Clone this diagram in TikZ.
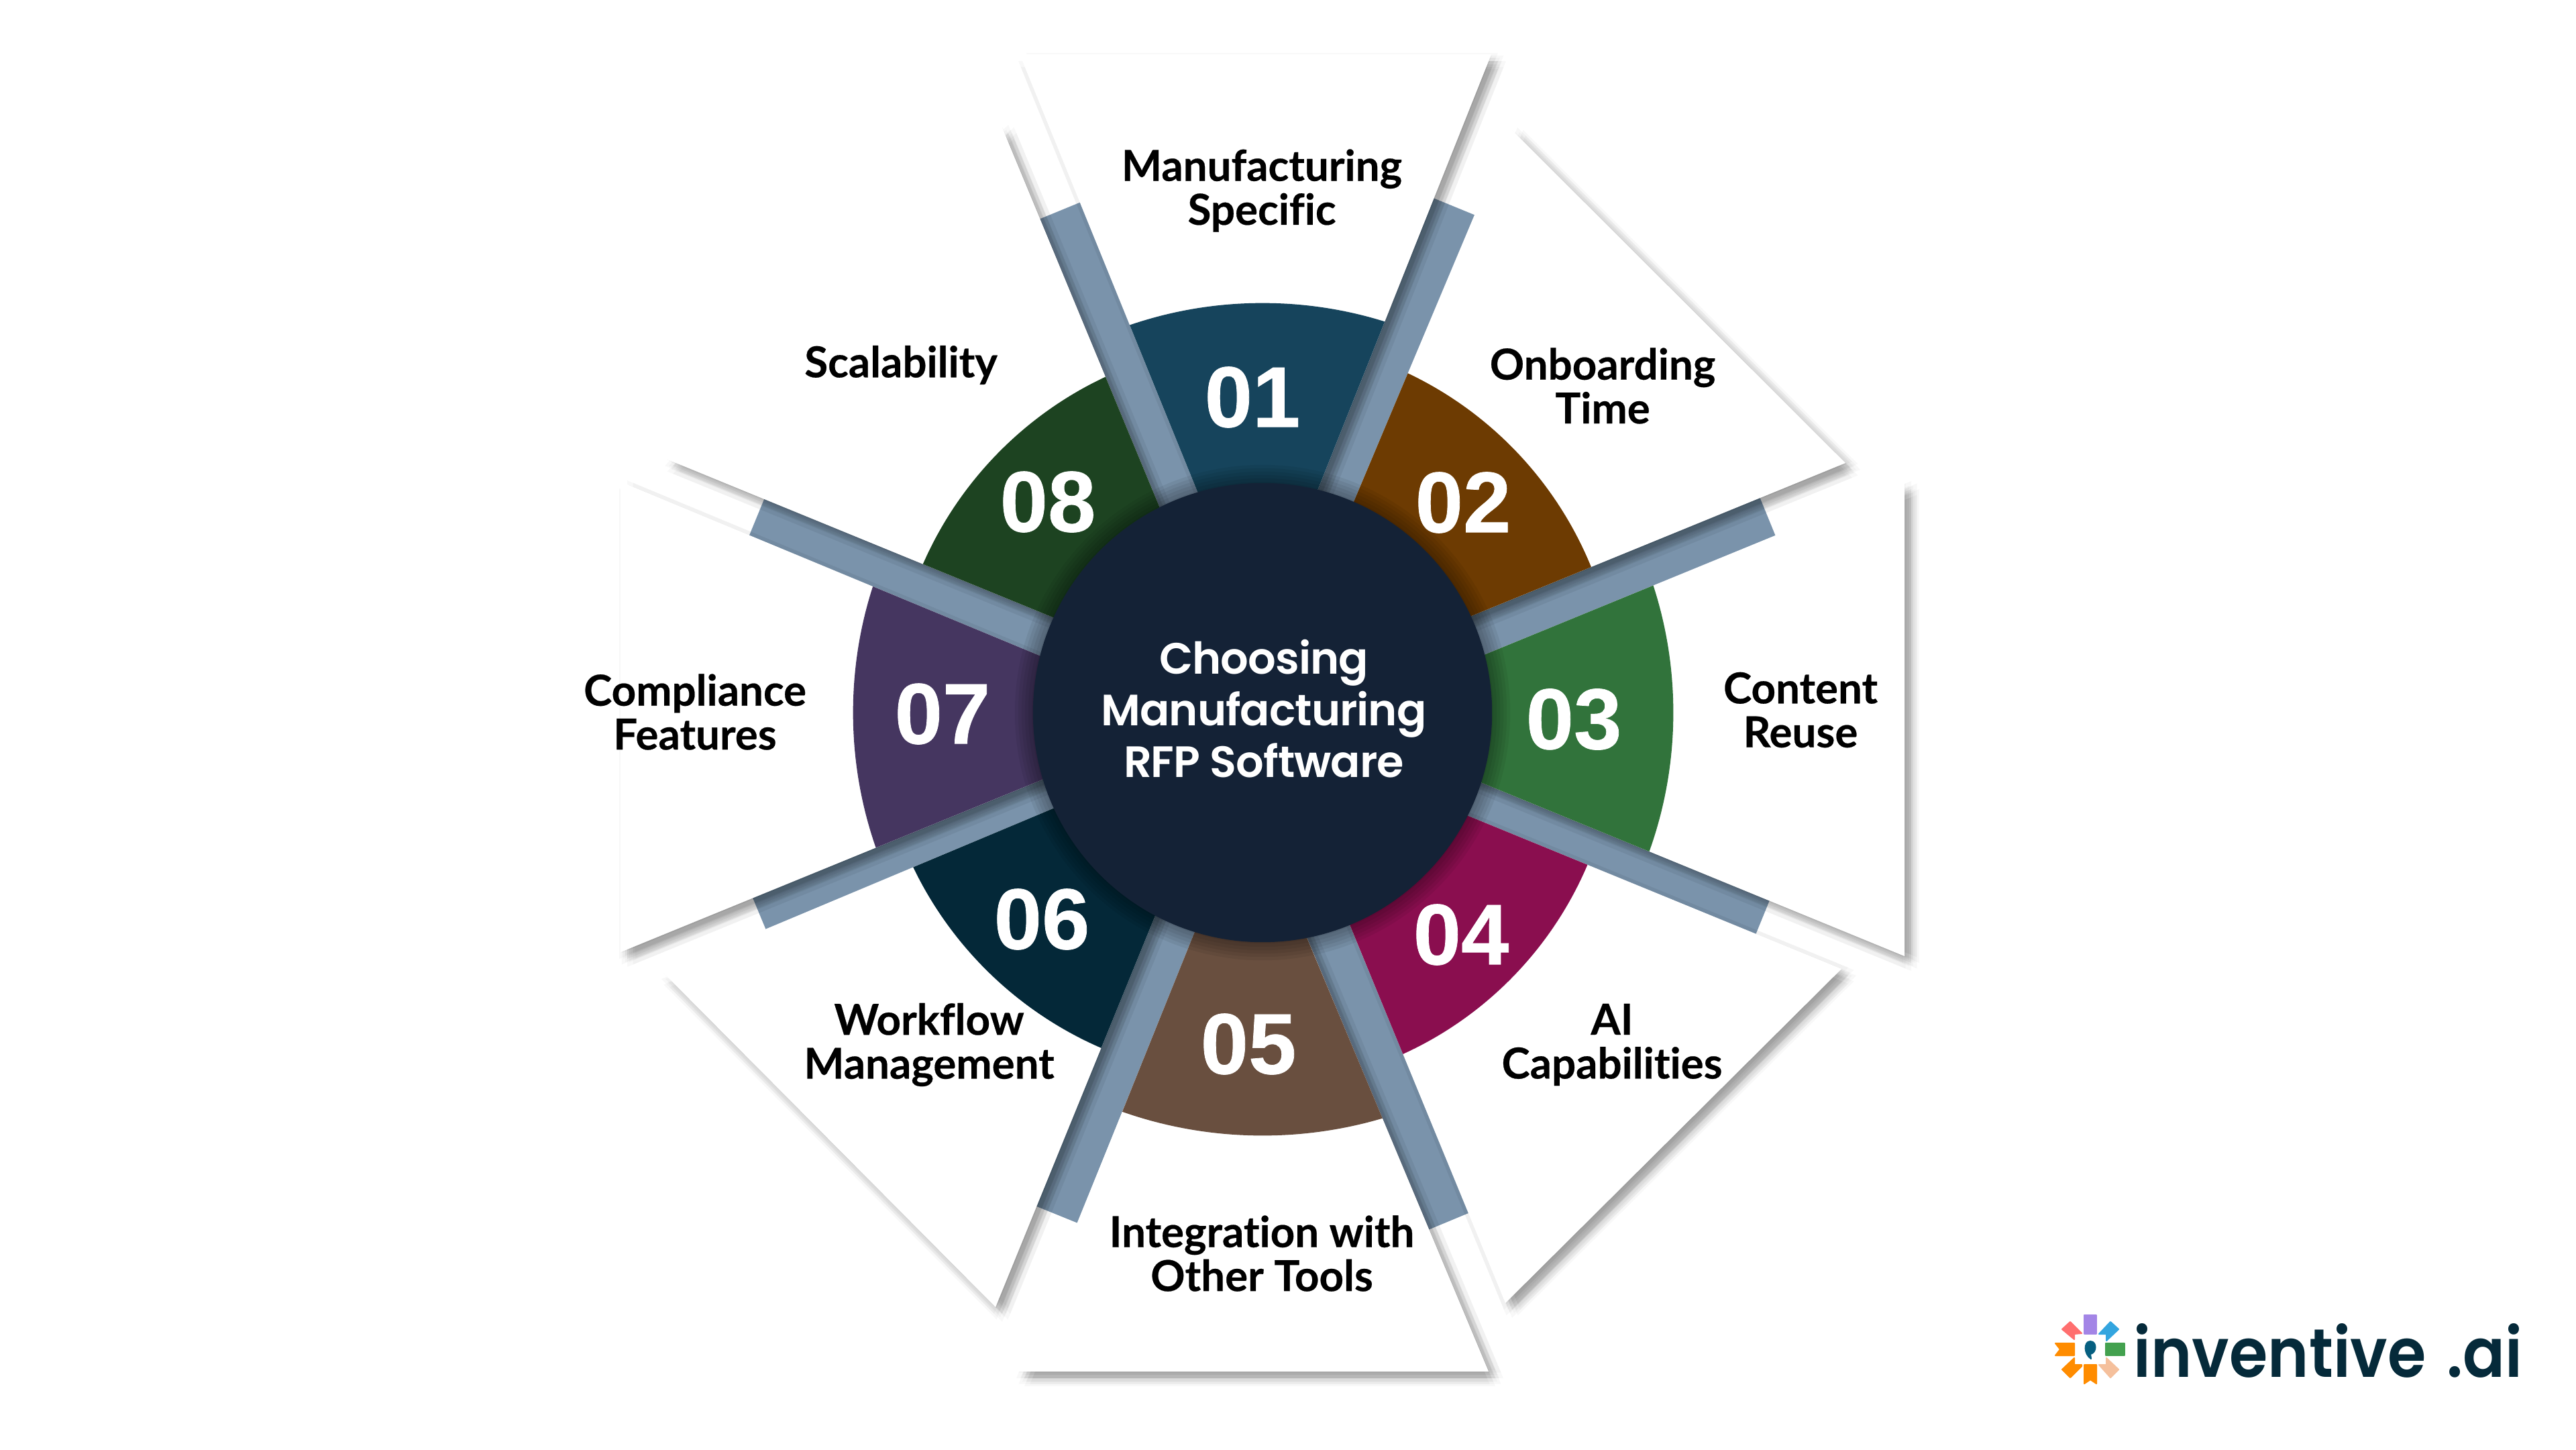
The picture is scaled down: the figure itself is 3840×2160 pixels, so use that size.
\documentclass[tikz,border=0pt]{standalone}
\usepackage{fontspec}
\setmainfont{Lato}[Ligatures={NoCommon}, BoldFeatures={FakeBold=0.35}]
\newfontfamily\numfont{Liberation Sans}[BoldFeatures={FakeBold=0.6}]
\newfontfamily\hubfont{Poppins SemiBold}[LetterSpace=-1.5]
\newfontfamily\logofont{Poppins SemiBold}[FakeStretch=0.91]
\usetikzlibrary{positioning}
\definecolor{barblue}{HTML}{7A93AB}
\definecolor{hubnavy}{HTML}{142236}
\definecolor{logoink}{HTML}{052A3A}
\definecolor{sec1}{HTML}{16445C}
\definecolor{sec2}{HTML}{6D3B02}
\definecolor{sec3}{HTML}{31733B}
\definecolor{sec4}{HTML}{8A0E4F}
\definecolor{sec5}{HTML}{694F3F}
\definecolor{sec6}{HTML}{042838}
\definecolor{sec7}{HTML}{453660}
\definecolor{sec8}{HTML}{1D4321}
\definecolor{logopurple}{HTML}{A385E6}
\definecolor{logored}{HTML}{FF6F6F}
\definecolor{logosky}{HTML}{33A5DF}
\definecolor{logoorange}{HTML}{FF8C00}
\definecolor{logogreen}{HTML}{43A14F}
\definecolor{logoteal}{HTML}{065F80}
\definecolor{logopeach}{HTML}{F5C09C}
\tikzset{
    barline/.style={barblue, line width=0.66cm},
    softshade/.style={fill=black, opacity=0.028},
    itemlabel/.style={font=\fontsize{18.1}{18.6}\selectfont\bfseries, align=center, inner sep=0pt, text=black},
    numlabel/.style={font=\fontsize{36.5}{38}\selectfont\numfont\bfseries, inner sep=0pt, text=white},
    logopiece/.style={fill=#1, draw=#1, line join=round, line width=0.02cm}
}
\begin{document}
\begin{tikzpicture}[x=0.01cm, y=-0.01cm]
    \useasboundingbox (0,0) rectangle (3840,2160);
    \fill[white] (0,0) rectangle (3840,2160);
    \coordinate (hub) at (1882,1062);

    \foreach \sx/\sy/\ex/\ey [count=\i] in {1780/800/1580/314, 1966/800/2168/308, 2150/968/2635/770, 2150/1171/2628/1366, 1952/1320/2160/1820, 1774/1320/1575/1810, 1610/1163/1132/1362, 1610/969/1128/771} {
        \coordinate (foot\i) at (\sx,\sy);
        \coordinate (bar\i) at (\ex,\ey);
        \draw[barline] (foot\i) -- (bar\i);
    }

    \foreach \ax/\ay/\bx/\by/\px/\py in {
        1520/81/2223/81/1875/954,
        2252/192/2751/690/1895/1040,
        2839/719/2839/1425/1978/1072,
        2745/1444/2244/1942/1896/1096,
        2219/2044/1517/2044/1861/1190,
        1484/1948/988/1449/1832/1095,
        925/1419/925/718/1776/1071,
        993/684/1493/188/1843/1032} {
        \foreach \dx/\dy in {22/10, 18.5/18.5, 10/22, 1.5/18.5, -2/10, 1.5/1.5, 10/-2, 18.5/1.5, 16/10, 13/15, 7/15, 4/10, 7/5, 13/5, 10/10, 10/10} {
            \fill[softshade, shift={(\dx,\dy)}] (\ax,\ay) -- (\bx,\by) -- (\px,\py) -- cycle;
        }
    }

    \foreach \ax/\ay/\bx/\by/\px/\py/\cx/\cy/\rr/\col in {
        1520/81/2223/81/1875/954/1882/1062/6.10/sec1,
        2252/192/2751/690/1895/1040/1864/1052/5.48/sec2,
        2839/719/2839/1425/1978/1072/1882/1062/6.12/sec3,
        2745/1444/2244/1942/1896/1096/1867/1077/5.42/sec4,
        2219/2044/1517/2044/1861/1190/1882/1062/6.30/sec5,
        1484/1948/988/1449/1832/1095/1862/1052/5.55/sec6,
        925/1419/925/718/1776/1071/1882/1062/6.10/sec7,
        993/684/1493/188/1843/1032/1882/1062/5.52/sec8} {
        \fill[white] (\ax,\ay) -- (\bx,\by) -- (\px,\py) -- cycle;
        \begin{scope}
            \clip (\ax,\ay) -- (\bx,\by) -- (\px,\py) -- cycle;
            \fill[\col] (\cx,\cy) circle (\rr cm);
        \end{scope}
    }

    \foreach \w in {3.44,3.49,3.54,3.59,3.64,3.69} {
        \fill[black, opacity=0.06, shift={(8,8)}] (hub) circle (\w cm);
    }
    \node[circle, fill=hubnavy, minimum size=6.84cm, inner sep=0pt] (hubdisc) at (hub) {};
    \node[font=\fontsize{18.6}{21.9}\selectfont\hubfont, text=white, align=center, inner sep=0pt] (hubtext) at (1884,1056) {Choosing\\Manufacturing\\RFP Software};

    \node[numlabel] (num1) at (1867,592) {01};
    \node[numlabel] (num2) at (2181,749) {02};
    \node[numlabel] (num3) at (2346,1072) {03};
    \node[numlabel] (num4) at (2178,1393) {04};
    \node[numlabel] (num5) at (1861,1556) {05};
    \node[numlabel] (num6) at (1553,1370) {06};
    \node[numlabel] (num7) at (1405,1064) {07};
    \node[numlabel] (num8) at (1562,748) {08};

    \node[itemlabel] (item1) at (1881,284) {Manufacturing\\Specific};
    \node[itemlabel] (item2) at (2389,575) {Onboarding\\Time};
    \node[itemlabel] (item3) at (2684,1058) {Content\\Reuse};
    \node[itemlabel] (item4) at (2403,1557) {AI\\Capabilities};
    \node[itemlabel] (item5) at (1881,1868) {Integration with\\Other Tools};
    \node[itemlabel] (item6) at (1385,1557) {Workflow\\Management};
    \node[itemlabel] (item7) at (1036,1061) {Compliance\\Features};
    \node[itemlabel] (item8) at (1343,544) {Scalability};

    \filldraw[logopiece=logopurple] (3107,1960) rectangle (3125,1988);
    \filldraw[logopiece=logored] (3086,1970) -- (3103,1987) -- (3092,1988) -- (3092,1996) -- (3074,1981) -- cycle;
    \filldraw[logopiece=logosky] (3146,1970) -- (3158,1981) -- (3140,1998) -- (3140,1988) -- (3129,1988) -- cycle;
    \filldraw[logopiece=logoorange] (3092,2002) -- (3092,2020) -- (3064,2020) -- (3071,2011) -- (3064,2002) -- cycle;
    \filldraw[logopiece=logogreen] (3139,2002) rectangle (3167,2020);
    \filldraw[logopiece=logoteal] (3117,2025) .. controls (3106,2018) and (3106,1999) .. (3116,1999) .. controls (3126,1999) and (3126,2016) .. (3116,2018) -- cycle;
    \filldraw[logopiece=logoorange] (3092,2024) -- (3092,2034) -- (3103,2034) -- (3103,2036) -- (3086,2053) -- (3074,2041) -- cycle;
    \filldraw[logopiece=logoorange] (3107,2034) -- (3125,2034) -- (3125,2062) -- (3116,2056) -- (3107,2062) -- cycle;
    \filldraw[logopiece=logopeach] (3129,2034) -- (3140,2034) -- (3140,2024) -- (3158,2041) -- (3146,2053) -- cycle;
    \node[font=\fontsize{29}{30}\selectfont\logofont, text=logoink, anchor=base west, inner sep=0pt] (logotext) at (3180,2052) {inventive\hspace{0.3em}.ai};
\end{tikzpicture}
\end{document}
